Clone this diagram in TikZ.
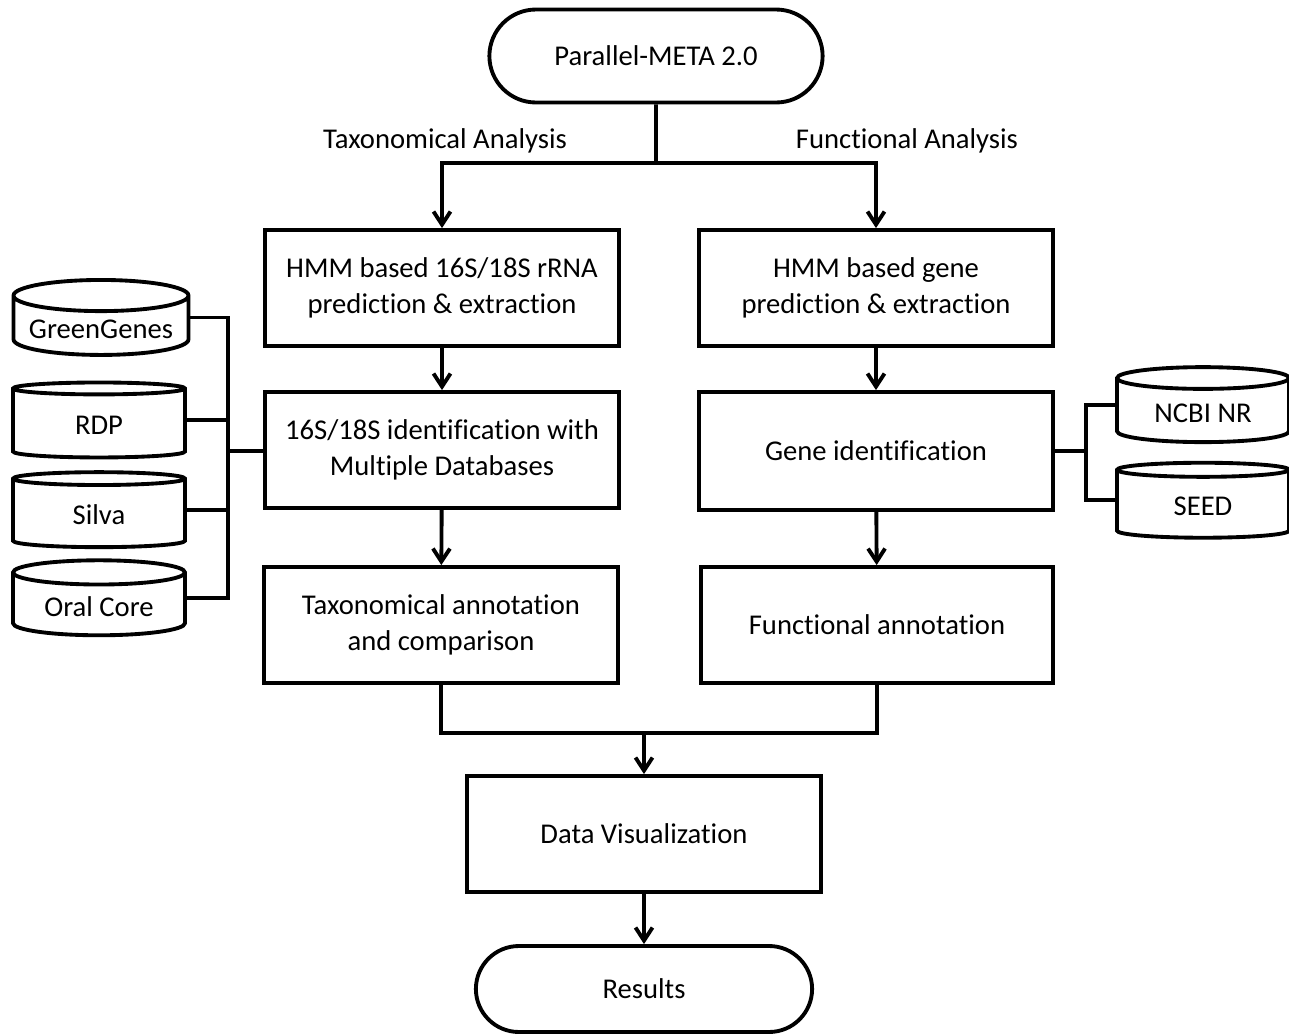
\documentclass[tikz,border=0pt]{standalone}
\usepackage{fontspec}
\setmainfont{Carlito}[Ligatures=NoCommon]
\usetikzlibrary{arrows.meta,shapes.geometric,shapes.misc}

\begin{document}
\begin{tikzpicture}[x=0.02cm, y=-0.02cm, line width=2.2pt,
    font=\fontsize{16.3}{20.5}\selectfont,
    box/.style={shape=rectangle, draw=black, align=center, minimum width=7.08cm, minimum height=2.32cm},
    term/.style={shape=rounded rectangle, draw=black, minimum width=6.9cm},
    db/.style={shape=cylinder, draw=black, shape border rotate=90, aspect=0.2, minimum width=3.5cm, minimum height=1.5cm},
    arr/.style={-{Straight Barb[length=2.6mm,width=3.4mm]}}]
    \useasboundingbox (0,0) rectangle (1289,1035);

    \node[term, minimum height=1.86cm] (top) at (656, 56) {Parallel-META 2.0};
    \node (taxlabel) at (445, 141) {Taxonomical Analysis};
    \node (funclabel) at (907, 141) {Functional Analysis};

    \node[box] (hmm16) at (442, 288) {HMM based 16S/18S rRNA\\prediction \& extraction};
    \node[box] (ident16) at (442, 450) {16S/18S identification with\\Multiple Databases};
    \node[box] (taxann) at (441, 625) {Taxonomical annotation\\and comparison};

    \node[box] (hmmgene) at (876, 288) {HMM based gene\\prediction \& extraction};
    \node[box, minimum height=2.36cm] (geneid) at (876, 451) {Gene identification};
    \node[box, minimum width=7.04cm] (funcann) at (877, 625) {Functional annotation};

    \node[box] (dataviz) at (644, 834) {Data Visualization};
    \node[term, minimum width=6.96cm, minimum height=1.72cm] (results) at (644, 989) {Results};

    \node[db] (gg) at (101, 329) {GreenGenes};
    \node[db, minimum width=3.44cm] (rdp) at (99, 425) {RDP};
    \node[db, minimum width=3.44cm] (silva) at (99, 515) {Silva};
    \node[db, minimum width=3.44cm] (oral) at (99, 607) {Oral Core};
    \node[db, minimum width=3.44cm] (ncbi) at (1203, 413) {NCBI NR};
    \node[db, minimum width=3.44cm] (seed) at (1203, 506) {SEED};

    \coordinate (split) at (656, 163);
    \coordinate (lbus) at (228, 451);
    \coordinate (rbus) at (1086, 451);
    \coordinate (join) at (644, 733);

    \draw (top) -- (split);
    \draw [arr] (split) -| (hmm16);
    \draw [arr] (split) -| (hmmgene);
    \draw [arr] (hmm16) -- (ident16);
    \draw [arr] (ident16) -- (taxann);
    \draw [arr] (hmmgene) -- (geneid);
    \draw [arr] (geneid) -- (funcann);

    \draw (gg.east |- gg.shape center) -| (lbus) |- (oral.east |- oral.shape center);
    \draw (rdp.east |- rdp.shape center) -| (lbus);
    \draw (silva.east |- silva.shape center) -| (lbus);
    \draw (lbus) -- (lbus -| ident16.west);
    \draw (ncbi.west |- ncbi.shape center) -| (rbus) |- (seed.west |- seed.shape center);
    \draw (geneid.east) -- (rbus);

    \draw (taxann.south) |- (join);
    \draw (funcann.south) |- (join);
    \draw [arr] (join) -- (dataviz);
    \draw [arr] (dataviz) -- (results);
\end{tikzpicture}
\end{document}
